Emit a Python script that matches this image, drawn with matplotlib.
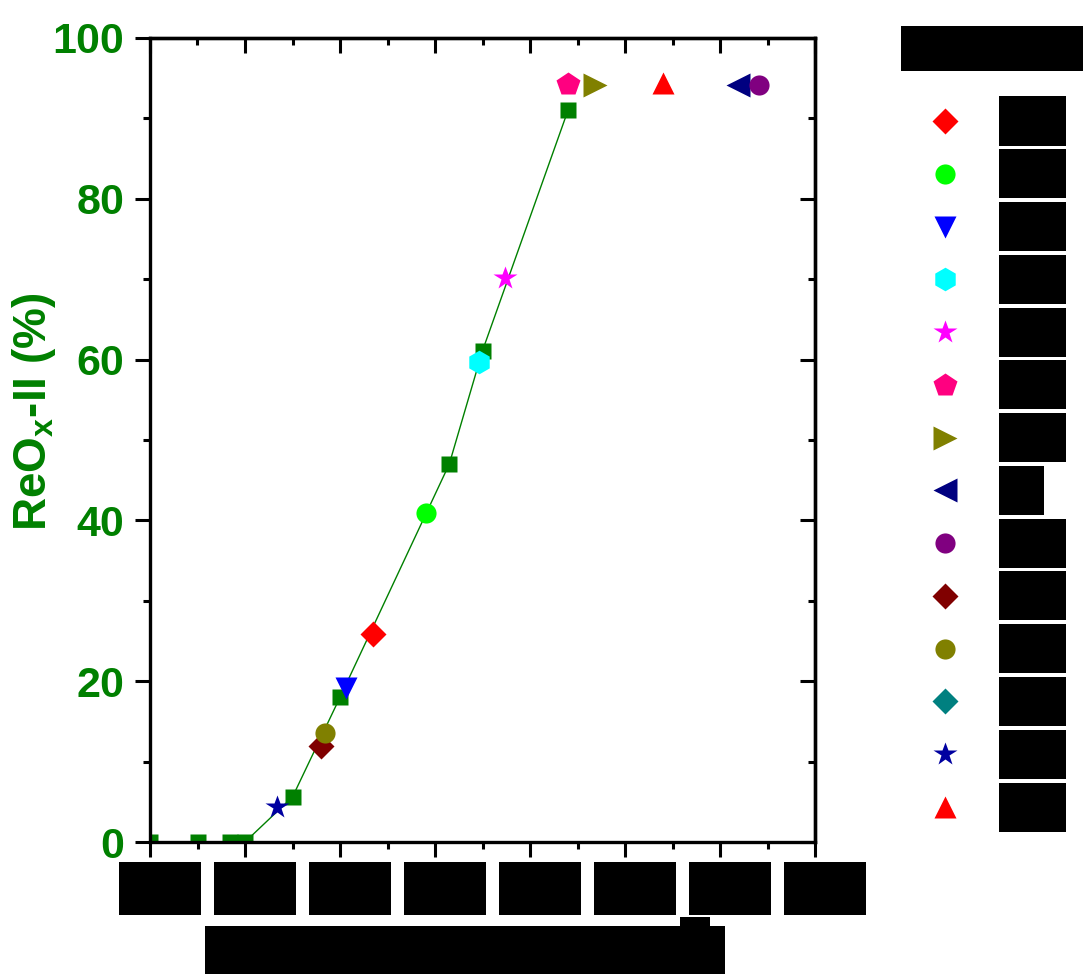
import numpy as np
import matplotlib
matplotlib.use('Agg')
from matplotlib import pyplot as plt
from matplotlib.patches import Rectangle
from matplotlib.ticker import MultipleLocator

plt.rcParams['font.family'] = ['Liberation Sans', 'DejaVu Sans']
plt.rcParams['font.weight'] = 'bold'
plt.rcParams['mathtext.fontset'] = 'custom'
plt.rcParams['mathtext.bf'] = 'Liberation Sans:bold'
plt.rcParams['mathtext.rm'] = 'Liberation Sans:bold'

# reference curve (green squares)
curve_x = [0.0, 0.5, 0.84, 1.0, 1.5, 2.0, 3.15, 3.5, 4.4]
curve_y = [0.0, 0.0, 0.0, 0.0, 5.6, 18.0, 47.0, 61.1, 91.0]

# individual samples, in legend order
sample_x = [2.35, 2.9, 2.06, 3.46, 3.74, 4.40, 4.68, 6.19, 6.41, 1.80, 1.84, np.nan, 1.34, 5.40]
sample_y = [25.9, 40.9, 19.1, 59.7, 70.1, 94.3, 94.2, 94.2, 94.2, 11.9, 13.5, np.nan, 4.4, 94.4]
sample_markers = ['D', 'o', 'v', 'h', '*', 'p', '>', '<', 'o', 'D', 'o', 'D', '*', '^']
sample_colors = ['#FF0000', '#00FF00', '#0000FF', '#00FFFF', '#FF00FF', '#FF0080', '#808000',
                 '#000080', '#800080', '#800000', '#808000', '#008080', '#0000A0', '#FF0000']
sample_sizes = [13, 14.5, 16.5, 17, 17.5, 17.5, 17.5, 17.5, 14.5, 13, 14.5, 13, 17.5, 16.5]

W, H = 1083, 974
fig = plt.figure(figsize=(W / 100, H / 100), dpi=100)
ax = fig.add_axes([150 / W, (H - 842) / H, 665 / W, 804 / H])

ax.plot(curve_x, curve_y, color='#008000', lw=1.0, marker='s', ms=12, mec='none', zorder=2)
for x, y, m, c, s in zip(sample_x, sample_y, sample_markers, sample_colors, sample_sizes):
    ax.plot([x], [y], ls='none', marker=m, color=c, ms=s, mec='none', zorder=3)

ax.set_xlim(0, 7)
ax.set_ylim(0, 100)
ax.xaxis.set_major_locator(MultipleLocator(1))
ax.xaxis.set_minor_locator(MultipleLocator(0.5))
ax.yaxis.set_major_locator(MultipleLocator(20))
ax.yaxis.set_minor_locator(MultipleLocator(10))
ax.set_xticklabels([])
for sp in ax.spines.values():
    sp.set_linewidth(2.4)
ax.tick_params(which='both', width=2.2, labelsize=31, labelcolor='#008000', pad=8)
ax.tick_params(which='major', length=10.5)
ax.tick_params(which='minor', length=5)
ax.tick_params(which='both', axis='both', direction='out', top=False, right=False)
for lab in ax.get_yticklabels():
    lab.set_fontweight('bold')

# inward ticks on top and right
sec_x = ax.secondary_xaxis('top')
sec_x.xaxis.set_major_locator(MultipleLocator(1))
sec_x.xaxis.set_minor_locator(MultipleLocator(0.5))
sec_x.tick_params(which='both', direction='in', width=2.2, labeltop=False)
sec_x.tick_params(which='major', length=10.5)
sec_x.tick_params(which='minor', length=5)
sec_x.spines['top'].set_linewidth(2.4)
sec_y = ax.secondary_yaxis('right')
sec_y.yaxis.set_major_locator(MultipleLocator(20))
sec_y.yaxis.set_minor_locator(MultipleLocator(10))
sec_y.tick_params(which='both', direction='in', width=2.2, labelright=False)
sec_y.tick_params(which='major', length=10.5)
sec_y.tick_params(which='minor', length=5)
sec_y.spines['right'].set_linewidth(2.4)

ax.set_ylabel(r'ReO$_{\mathbf{x}}$-II (%)', fontsize=33, fontweight='bold', color='#008000',
              va='center')
ax.yaxis.set_label_coords(-0.175, 0.535)

# legend panel
lax = fig.add_axes([900 / W, (H - 833.4) / H, 183 / W, 738.8 / H])
lax.set_xlim(0, 1)
lax.set_ylim(13.5, -0.5)
lax.axis('off')
for i, (m, c, s) in enumerate(zip(sample_markers, sample_colors, sample_sizes)):
    lax.plot([0.246], [i], ls='none', marker=m, color=c, ms=s, mec='none')


# redacted text boxes (pixel coordinates of the original)
def black_box(x0, y0, x1, y1):
    fig.add_artist(Rectangle((x0 / W, 1 - y1 / H), (x1 - x0) / W, (y1 - y0) / H,
                             transform=fig.transFigure, facecolor='black', edgecolor='none'))


for k in range(8):
    black_box(119 + 95 * k, 862, 201 + 95 * k, 915)
black_box(205, 926, 725, 974)
black_box(680, 917, 710, 926)
black_box(901, 26, 1083, 71)
for i in range(14):
    yc = 121 + 52.77 * i
    x1 = 1044 if i == 7 else 1066
    black_box(999, yc - 24.5, x1, yc + 24.5)

fig.savefig('out.png', dpi=100)
